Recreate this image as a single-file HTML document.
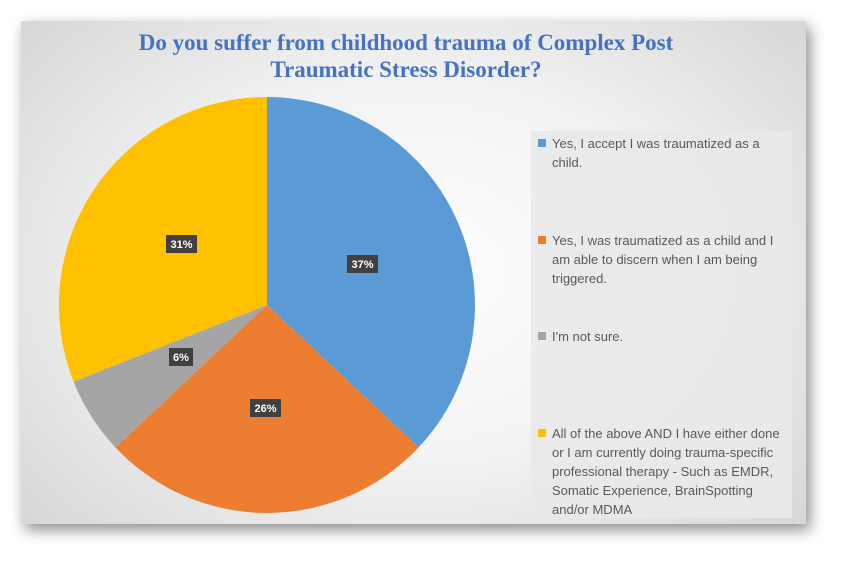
<!DOCTYPE html>
<html><head><meta charset="utf-8"><style>
body{margin:0;width:843px;height:568px;background:#fff;overflow:hidden;position:relative;font-family:"Liberation Sans",sans-serif}
.card{position:absolute;left:21px;top:21px;width:785px;height:503px;background:radial-gradient(ellipse 75% 85% at 50% 50%,#ffffff 0%,#f2f2f2 45%,#d0d0d0 100%);box-shadow:4px 6px 14px rgba(0,0,0,0.45)}
.title{position:absolute;left:6px;width:800px;top:29px;text-align:center;font-family:"Liberation Serif",serif;font-weight:bold;font-size:23px;line-height:27px;color:#4472c4;white-space:nowrap}
.leg{position:absolute;left:531px;top:131px;width:261px;height:387px;background:#e9e9e9;opacity:.9}
.li{position:absolute;left:552px;width:260px;font-size:13px;line-height:19px;color:#595959;white-space:nowrap}
.sw{position:absolute;left:-14px;top:5px;width:8px;height:8px}
</style></head><body>
<div class="card"></div>
<div class="title">Do you suffer from childhood trauma of Complex Post<br>Traumatic Stress Disorder?</div>
<svg style="position:absolute;left:0;top:0" width="843" height="568">
<path d="M267,305 L267,97 A208,208 0 0 1 418.6,447.4 Z" fill="#5b9bd5"/>
<path d="M267,305 L418.6,447.4 A208,208 0 0 1 115.4,447.4 Z" fill="#ed7d31"/>
<path d="M267,305 L115.4,447.4 A208,208 0 0 1 73.6,381.6 Z" fill="#a5a5a5"/>
<path d="M267,305 L73.6,381.6 A208,208 0 0 1 267,97 Z" fill="#ffc000"/>
<g font-family="Liberation Sans,sans-serif" font-weight="bold" font-size="11" fill="#fff" text-anchor="middle">
<rect x="347" y="255" width="31" height="18" fill="#404040"/><text x="362.5" y="268">37%</text>
<rect x="250" y="399" width="31" height="18" fill="#404040"/><text x="265.5" y="412">26%</text>
<rect x="169" y="348" width="24" height="18" fill="#404040"/><text x="181" y="361">6%</text>
<rect x="166" y="235" width="31" height="18" fill="#404040"/><text x="181.5" y="248">31%</text>
</g></svg>
<div class="leg"></div>
<div class="li" style="top:134px"><span class="sw" style="background:#5b9bd5"></span>Yes, I accept I was traumatized as a<br>child.</div>
<div class="li" style="top:231px"><span class="sw" style="background:#ed7d31"></span>Yes, I was traumatized as a child and I<br>am able to discern when I am being<br>triggered.</div>
<div class="li" style="top:327px"><span class="sw" style="background:#a5a5a5"></span>I'm not sure.</div>
<div class="li" style="top:424px"><span class="sw" style="background:#ffc000"></span>All of the above AND I have either done<br>or I am currently doing trauma-specific<br>professional therapy - Such as EMDR,<br>Somatic Experience, BrainSpotting<br>and/or MDMA</div>
</body></html>
